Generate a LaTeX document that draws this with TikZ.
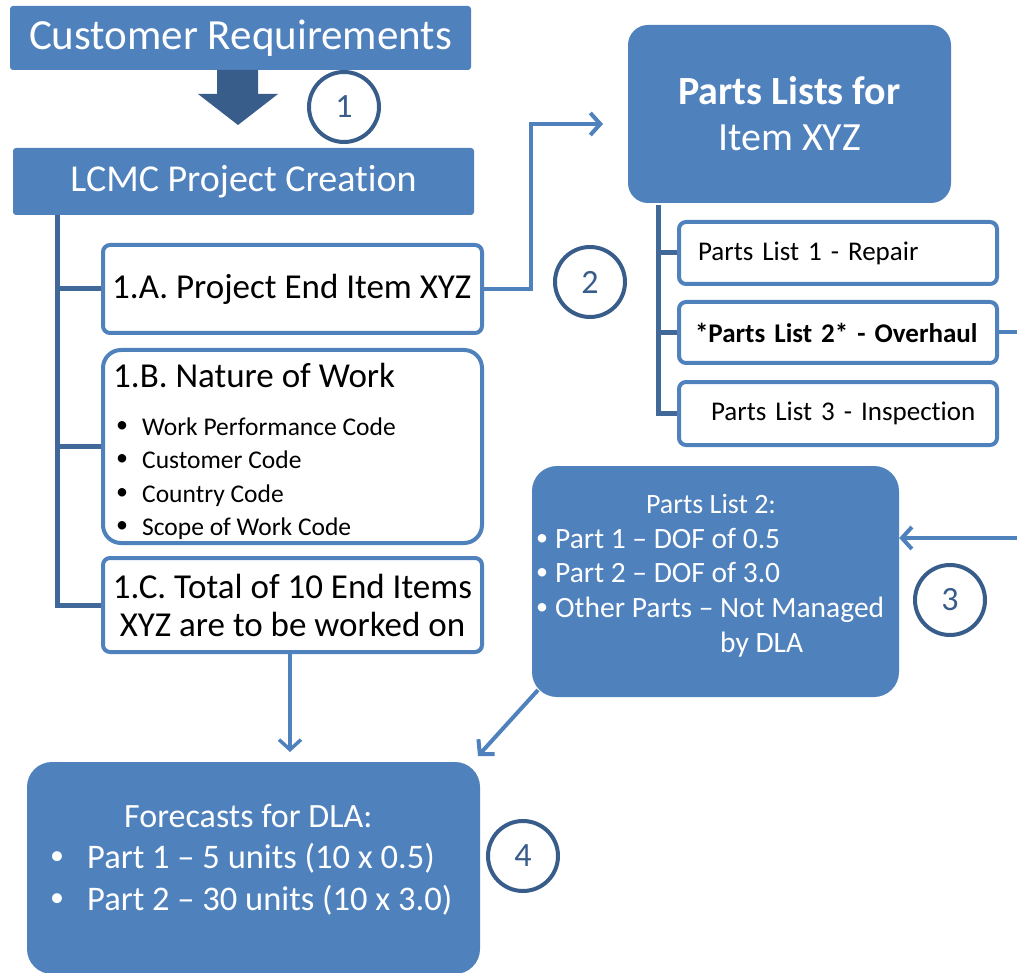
\documentclass[tikz,border=0pt]{standalone}
\usepackage{fontspec}
\setmainfont{Carlito}[Ligatures=NoCommon]
\usetikzlibrary{arrows.meta,calc}
\definecolor{mblue}{RGB}{79,129,189}
\definecolor{tblue}{RGB}{64,104,152}
\definecolor{dblue}{RGB}{56,93,138}
\newcommand{\myfs}[1]{\fontsize{#1}{#1}\selectfont}
\frenchspacing
\begin{document}
\begin{tikzpicture}[x=1pt,y=-1pt,
  bluebox/.style={fill=mblue, text=white, rounded corners=#1, inner sep=0pt, align=center},
  bluebox/.default=3pt,
  whitebox/.style={draw=mblue, line width=4pt, fill=white, rounded corners=7pt, inner sep=0pt},
  treeline/.style={draw=tblue, line width=5pt},
  conn/.style={draw=mblue, line width=4pt, -{Straight Barb[length=10pt,width=22pt]}},
  num/.style={circle, draw=dblue, line width=4pt, minimum size=70pt, inner sep=0pt, text=dblue, font=\myfs{34}},
  wtext/.style={text=white, inner sep=0pt},
  btext/.style={text=black, inner sep=0pt}
]
\useasboundingbox (0,0) rectangle (1017,973);
\clip (0,0) rectangle (1017,973);

% ---------- left column ----------
\node[bluebox, minimum width=461pt, minimum height=64pt, font=\myfs{43}] (cr) at (240.5,38) {Customer Requirements};
\node[bluebox, minimum width=461pt, minimum height=67pt, font=\myfs{38}] (lcmc) at (243.5,181.5) {LCMC Project Creation};
\fill[dblue] (217,70) -- (258,70) -- (258,94) -- (278,94) -- (238,125) -- (198,94) -- (217,94) -- cycle;
\node[num] (n1) at (344,107) {1};

\node[whitebox, minimum width=379pt, minimum height=88pt] (b1a) at (292.5,289) {};
\node[btext, anchor=base west, font=\myfs{35}] (b1at) at (112,299) {1.A. Project End Item XYZ};
\node[whitebox, rounded corners=18pt, minimum width=379pt, minimum height=193pt] (b1b) at (292.5,446.5) {};
\node[btext, anchor=base west, font=\myfs{35}] (b1bt) at (113,388) {1.B. Nature of Work};
\foreach \yy/\tt [count=\i] in {435/Work Performance Code, 468/Customer Code, 502/Country Code, 535/Scope of Work Code}{
  \node[btext, font=\myfs{24}] (bb\i) at (122,\yy-8) {•};
  \node[btext, anchor=base west, font=\myfs{25.5}] (bt\i) at (142,\yy) {\tt};
}
\node[whitebox, minimum width=379pt, minimum height=94pt, align=center, font=\fontsize{35}{38}\selectfont] (b1c) at (292.5,605) {1.C. Total of 10 End Items\\XYZ are to be worked on};

\coordinate (t1) at (57,215);
\draw[treeline] (t1) |- (b1c.west);
\draw[treeline] (t1 |- b1a.west) -- (b1a.west);
\draw[treeline] (t1 |- b1b.west) -- (b1b.west);

% ---------- right column ----------
\node[bluebox=20pt, minimum width=323pt, minimum height=178pt, font=\fontsize{40}{46}\selectfont] (pl) at (789.5,114) {\textbf{Parts Lists for}\\Item XYZ};

\node[whitebox, minimum width=318pt, minimum height=62pt, text width=318pt, align=left, font=\myfs{27}] (pl1) at (838,253) {\hspace*{19pt}Parts List 1 - Repair};
\node[whitebox, minimum width=318pt, minimum height=61pt, text width=318pt, align=left, font=\myfs{27}] (pl2) at (838,332.5) {\hspace*{16pt}\textbf{*Parts List 2* - Overhaul}};
\node[whitebox, minimum width=318pt, minimum height=63pt, text width=318pt, align=left, font=\myfs{27}] (pl3) at (838,413.5) {\hspace*{32pt}Parts List 3 - Inspection};

\coordinate (t2) at (658,205);
\draw[treeline] (t2) |- (pl3.west);
\draw[treeline] (t2 |- pl1.west) -- (pl1.west);
\draw[treeline] (t2 |- pl2.west) -- (pl2.west);

\coordinate (a2end) at (603,124);
\draw[conn] (b1a.east) -- (531,289) |- (a2end);
\node[num] (n2) at (590,282) {2};

% Parts List 2 box
\node[bluebox=25pt, minimum width=367pt, minimum height=231pt] (plt) at (715.5,581.5) {};
\node[wtext, anchor=base, font=\myfs{28}] (pltt) at (711,513) {Parts List 2:};
\foreach \yy/\tt [count=\i] in {548/Part 1 – DOF of 0.5, 582/Part 2 – DOF of 3.0, 617/Other Parts – Not Managed}{
  \node[wtext, font=\myfs{24}] (pb\i) at (542,\yy-8) {•};
  \node[wtext, anchor=base west, font=\myfs{29.5}] (ptx\i) at (555,\yy) {\tt};
}
\node[wtext, anchor=base west, font=\myfs{29.5}] (pdla) at (720,652) {by DLA};

\coordinate (e1) at (1040,332.5);
\coordinate (e2) at (1040,538);
\draw[conn] (pl2.east) -- (e1) -- (e2) -- (plt.east |- e2);
\node[num] (n3) at (950,600) {3};

% Forecasts box
\node[bluebox=25pt, minimum width=453pt, minimum height=212pt] (fc) at (253.5,868) {};
\node[wtext, anchor=base west, font=\myfs{34}] (fct) at (124,827) {Forecasts for DLA:};
\node[wtext, font=\myfs{28}] (fb1) at (57,858) {•};
\node[wtext, anchor=base west, font=\myfs{34.5}] (fx1) at (87,868) {Part 1 – 5 units (10 x 0.5)};
\node[wtext, font=\myfs{28}] (fb2) at (57,900) {•};
\node[wtext, anchor=base west, font=\myfs{34.5}] (fx2) at (87,910) {Part 2 – 30 units (10 x 3.0)};
\node[num] (n4) at (523,856) {4};

\coordinate (a4end) at (290,752);
\draw[conn, line width=3.5pt] (b1c.south -| a4end) -- (a4end);
\coordinate (a5start) at (538,690);
\coordinate (a5end) at (478,756);
\draw[conn] (a5start) -- (a5end);
\end{tikzpicture}
\end{document}
